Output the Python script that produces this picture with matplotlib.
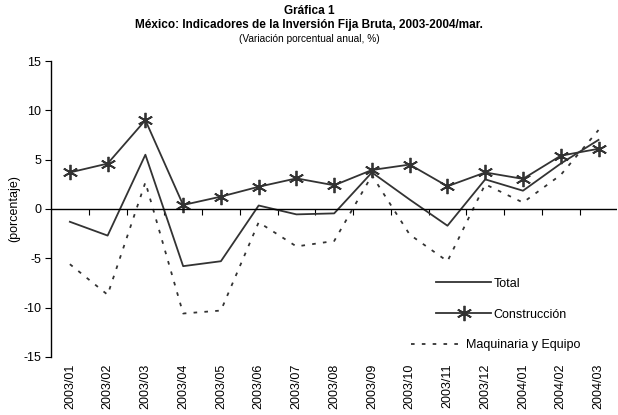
import matplotlib
matplotlib.use('Agg')
import matplotlib.pyplot as plt

plt.rcParams['font.family'] = ['Liberation Sans', 'DejaVu Sans']
plt.rcParams['axes.unicode_minus'] = False

periodos = ['2003/01', '2003/02', '2003/03', '2003/04', '2003/05', '2003/06', '2003/07', '2003/08',
            '2003/09', '2003/10', '2003/11', '2003/12', '2004/01', '2004/02', '2004/03']
total = [-1.3, -2.7, 5.5, -5.8, -5.3, 0.35, -0.55, -0.45, 3.7, 0.95, -1.7, 3.0, 1.85, 4.6, 7.0]
construccion = [3.7, 4.6, 9.0, 0.4, 1.25, 2.25, 3.1, 2.4, 3.95, 4.5, 2.3, 3.7, 3.05, 5.4, 6.1]
maquinaria = [-5.6, -8.7, 2.7, -10.6, -10.3, -1.35, -3.8, -3.25, 3.4, -2.6, -5.3, 2.5, 0.65, 3.45, 8.0]

col = '#333333'
x = list(range(len(periodos)))

fig = plt.figure(figsize=(6.18, 4.15), dpi=100)
ax = fig.add_axes([0.0825, 0.14, 0.9165, 0.713])

l_tot, = ax.plot(x, total, color=col, linewidth=1.3, label='Total')
l_con, = ax.plot(x, construccion, color=col, linewidth=1.3, marker=(6, 2, 0), markersize=11,
                 markeredgewidth=1.3, label='Construcción')
l_maq, = ax.plot(x, maquinaria, color=col, linewidth=1.3, linestyle=(0, (2, 4)), label='Maquinaria y Equipo')

ax.set_xlim(-0.5, len(periodos) - 0.5)
ax.set_ylim(-15, 15)
ax.set_yticks([-15, -10, -5, 0, 5, 10, 15])
ax.tick_params(axis='y', direction='out', length=4, labelsize=9, pad=3)
ax.set_xticks(x)
ax.set_xticklabels(periodos, rotation=90, fontsize=9)
ax.tick_params(axis='x', length=0, pad=5)
ax.set_ylabel('(porcentaje)', fontsize=9)
ax.yaxis.set_label_coords(-0.055, 0.5)

for s in ['top', 'right', 'bottom']:
    ax.spines[s].set_visible(False)
ax.spines['left'].set_linewidth(1)

ax.axhline(0, color='black', linewidth=1)
sec = ax.secondary_xaxis(0.5)
sec.xaxis.set_ticks_position('bottom')
sec.set_xticks([i + 0.5 for i in x[:-1]])
sec.set_xticklabels([])
sec.tick_params(axis='x', direction='out', length=4, width=0.8, labelbottom=False, labeltop=False)
for s in sec.spines.values():
    s.set_visible(False)

# legend entries placed like the original (Excel style)
leg1 = ax.legend(handles=[l_tot], loc='center left', bbox_to_anchor=(0.66, 0.248), frameon=False,
                 fontsize=9, handlelength=4.4, handletextpad=0.2)
ax.add_artist(leg1)
leg2 = ax.legend(handles=[l_con], loc='center left', bbox_to_anchor=(0.66, 0.143), frameon=False,
                 fontsize=9, handlelength=4.4, handletextpad=0.2)
ax.add_artist(leg2)
ax.legend(handles=[l_maq], loc='center left', bbox_to_anchor=(0.615, 0.04), frameon=False,
          fontsize=9, handlelength=4.2, handletextpad=0.2)

fig.text(0.5, 0.973, 'Gráfica 1', ha='center', va='center', fontsize=8.5, fontweight='bold')
fig.text(0.5, 0.94, 'México: Indicadores de la Inversión Fija Bruta, 2003-2004/mar.', ha='center',
         va='center', fontsize=8.5, fontweight='bold')
fig.text(0.5, 0.907, '(Variación porcentual anual, %)', ha='center', va='center', fontsize=7.3)

fig.savefig('out.png', dpi=100)
